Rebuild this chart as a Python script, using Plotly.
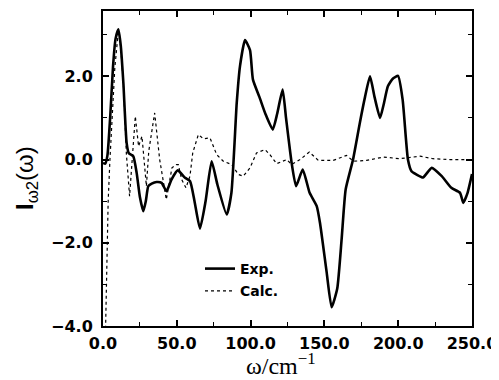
import plotly.graph_objects as go

# ---- data ----
exp_x = [0, 1.5, 3, 5, 6.8, 8.5, 10.4, 12, 13.8, 16, 17.5, 20.5, 22.8, 25, 27.3, 29, 30.7, 33, 36.3, 39.7,
         43, 46.4, 50.6, 55.6, 59, 62, 65.7, 69.5, 73.6, 77.5, 83.8, 87, 90.6, 92.8, 96.2, 99.6, 101.6, 106, 110, 115,
         118, 121.7, 124, 127.8, 130.8, 135.3, 140, 144.8, 147, 151.5, 154.9, 158.7, 161.7, 164.4, 169.4, 174, 177.5, 180.9, 184, 187.7,
         190, 193, 196.5, 199.9, 203, 206.6, 209, 212, 216.8, 222.7, 229.5, 236, 241.9, 244.1, 247, 250]
exp_y = [-0.08, -0.1, 0.1, 1.1, 2.24, 2.9, 3.13, 2.75, 1.84, 0.4, 0.15, 0.08, -0.32, -0.9, -1.24, -1.0, -0.64, -0.58, -0.54, -0.56,
         -0.76, -0.48, -0.26, -0.44, -0.52, -1.0, -1.66, -1.0, -0.04, -0.6, -1.32, -0.8, 1.36, 2.24, 2.87, 2.63, 1.92, 1.5, 1.1, 0.72,
         1.1, 1.68, 1.0, -0.08, -0.64, -0.24, -0.8, -1.12, -1.52, -2.7, -3.55, -3.1, -1.9, -0.72, 0.0, 0.88, 1.5, 2.0, 1.5, 1.0,
         1.3, 1.76, 1.95, 2.01, 1.44, 0.0, -0.28, -0.35, -0.43, -0.2, -0.4, -0.68, -0.8, -1.04, -0.8, -0.35]

calc_x = [1.5, 2.5, 3.5, 4.7, 6, 8, 10.4, 12, 14, 15.8, 18, 21.9, 24.1, 26.4, 29.4, 31, 35, 38.4, 42.9, 46.7,
          49.7, 51, 53.3, 56.2, 58.9, 60.8, 64.6, 68, 72.5, 77, 81.5, 87.2, 91.7, 95, 99.6, 104, 109.8, 113, 117.7, 124.5,
          127.8, 133.5, 139.8, 145.9, 156, 165, 169.6, 178.6, 190, 201, 214.8, 223.6, 235, 250]
calc_y = [-4.5, -2.5, -1.0, 0.0, 1.0, 2.2, 3.1, 2.7, 1.7, 0.16, -0.88, 1.04, 0.32, 0.56, -0.64, 0.2, 1.12, 0.0, -0.96, -0.2,
          -0.12, -0.12, -0.48, -0.68, -0.4, 0.16, 0.6, 0.5, 0.52, 0.12, -0.04, -0.12, -0.36, -0.4, -0.2, 0.16, 0.24, 0.12, -0.1, 0.0,
          -0.12, 0.0, 0.18, -0.02, -0.02, 0.1, -0.04, -0.02, 0.06, 0.02, 0.08, 0.02, 0.0, 0.0]

x_tickvals = [0, 50, 100, 150, 200, 250]
x_ticktext = ["0.0", "50.0", "100.0", "150.0", "200.0", "250.0"]
y_tickvals = [-4, -2, 0, 2]
y_ticktext = ["\u22124.0", "\u22122.0", "0.0", "2.0"]
series_names = ["Exp.", "Calc."]

fig = go.Figure()
fig.add_trace(go.Scatter(x=exp_x, y=exp_y, mode="lines", name=series_names[0], legendgroup="a",
                         line=dict(color="black", width=2.6, shape="spline", smoothing=0.5)))
fig.add_trace(go.Scatter(x=calc_x, y=calc_y, mode="lines", name=series_names[1], legendgroup="b",
                         line=dict(color="black", width=1.2, dash="dot")))

tickfont = dict(family="DejaVu Sans", size=16, color="black", weight="bold")
fig.update_xaxes(range=[0, 250], tickvals=x_tickvals, ticktext=x_ticktext, ticks="inside", ticklen=6,
                 tickwidth=1.5, tickcolor="black", showline=True, linewidth=2, linecolor="black", mirror="ticks",
                 showgrid=False, zeroline=False, tickfont=tickfont, ticklabelstandoff=2,
                 automargin=False, ticklabeloverflow="allow",
                 minor=dict(tickvals=[25, 75, 125, 175, 225], ticks="inside", ticklen=4, tickcolor="black", tickwidth=1.2))
fig.update_yaxes(range=[-4, 3.57], tickvals=y_tickvals, ticktext=y_ticktext, ticks="inside", ticklen=6,
                 tickwidth=1.5, tickcolor="black", showline=True, linewidth=2, linecolor="black", mirror="ticks",
                 showgrid=False, zeroline=False, tickfont=tickfont, ticklabelstandoff=5,
                 automargin=False, ticklabeloverflow="allow",
                 minor=dict(tickvals=[-3, -1, 1, 3], ticks="inside", ticklen=4, tickcolor="black", tickwidth=1.2))

fig.add_annotation(text="<b>I</b><sub>\u03c92</sub>(\u03c9)", textangle=-90, xref="paper", yref="paper",
                   x=(26 - 103) / 369, y=(326 - 178) / 315, xanchor="center", yanchor="middle", showarrow=False,
                   font=dict(family="Liberation Sans", size=24, color="black"))
fig.add_annotation(text="\u03c9/cm<sup>\u22121</sup>", xref="paper", yref="paper",
                   x=(281 - 103) / 369, y=(326 - 364) / 315, xanchor="center", yanchor="middle", showarrow=False,
                   font=dict(family="Liberation Serif", size=24, color="black"))

# the page adds an 8px body margin, so the figure is 8px smaller and margins shifted accordingly
fig.update_layout(width=491, height=372, margin=dict(l=95, r=27, t=3, b=54),
                  paper_bgcolor="white", plot_bgcolor="white",
                  legend=dict(x=(200 - 103) / 369, y=(326 - 253) / 315, xanchor="left", yanchor="top",
                              bgcolor="rgba(0,0,0,0)", font=dict(family="DejaVu Sans", size=14, color="black", weight="bold"),
                              itemwidth=30, traceorder="grouped", tracegroupgap=1),
                  showlegend=True)

fig.write_html("out.html")
